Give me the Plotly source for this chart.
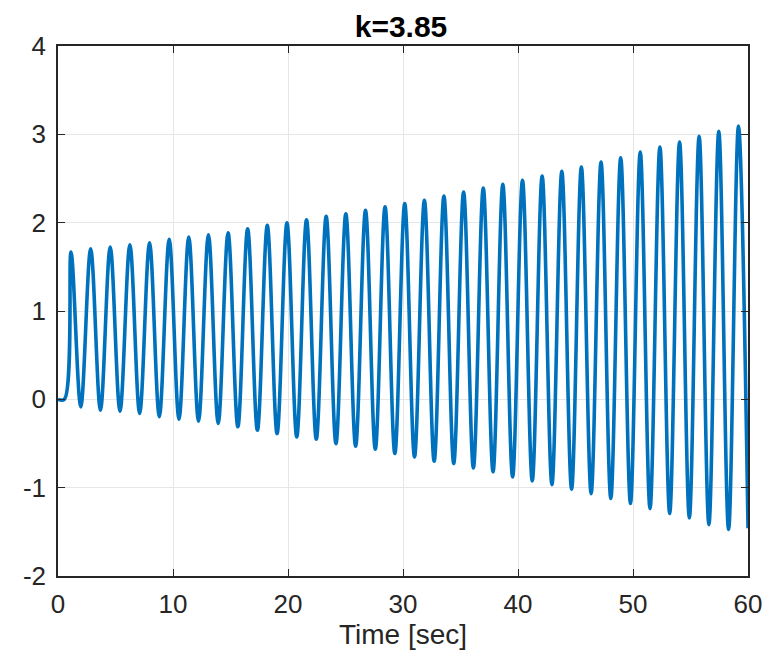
import plotly.graph_objects as go

# Start of the response (flat, then the first rise)
start_t = [0.0, 0.55]
start_v = [0.0, 0.0]

# Local maxima
peak_t = [1.13, 2.84, 4.54, 6.25, 7.96, 9.67, 11.37, 13.08, 14.79, 16.49,
          18.20, 19.91, 21.61, 23.32, 25.03, 26.74, 28.44, 30.15, 31.86, 33.56,
          35.27, 36.98, 38.68, 40.39, 42.10, 43.81, 45.51, 47.22, 48.93, 50.63,
          52.34, 54.05, 55.75, 57.46, 59.17]
peak_v = [1.667, 1.704, 1.724, 1.750, 1.772, 1.811, 1.837, 1.863, 1.886, 1.931,
          1.969, 1.999, 2.033, 2.071, 2.101, 2.139, 2.180, 2.216, 2.253, 2.301,
          2.347, 2.392, 2.434, 2.479, 2.528, 2.581, 2.630, 2.686, 2.735, 2.800,
          2.856, 2.913, 2.977, 3.034, 3.094]

# Local minima
trough_t = [1.98, 3.69, 5.39, 7.10, 8.81, 10.52, 12.22, 13.93, 15.64, 17.34,
            19.05, 20.76, 22.46, 24.17, 25.88, 27.59, 29.29, 31.00, 32.71, 34.41,
            36.12, 37.83, 39.53, 41.24, 42.95, 44.66, 46.36, 48.07, 49.78, 51.48,
            53.19, 54.90, 56.60, 58.31]
trough_v = [-0.085, -0.123, -0.135, -0.161, -0.198, -0.225, -0.248, -0.274, -0.311, -0.350,
            -0.387, -0.425, -0.452, -0.501, -0.531, -0.565, -0.614, -0.651, -0.701, -0.727,
            -0.776, -0.821, -0.878, -0.923, -0.965, -1.018, -1.067, -1.123, -1.180, -1.237,
            -1.293, -1.342, -1.418, -1.474]

# Final sample at the end of the run
end_t = [60.0]
end_v = [-1.46]

x_ticks = [0, 10, 20, 30, 40, 50, 60]
y_ticks = [-2, -1, 0, 1, 2, 3, 4]

pts = sorted(list(zip(start_t, start_v)) + list(zip(peak_t, peak_v)) +
             list(zip(trough_t, trough_v)) + list(zip(end_t, end_v)))
xs = [p[0] for p in pts]
ys = [p[1] for p in pts]

fig = go.Figure()
fig.add_trace(go.Scatter(
    x=xs, y=ys, mode="lines",
    line=dict(color="#0072BD", width=3.6, shape="spline", smoothing=1.0),
    showlegend=False, hoverinfo="skip", cliponaxis=True))

FONT = "Liberation Sans, Arial, sans-serif"
axis_common = dict(
    showline=True, linecolor="#262626", linewidth=1.5, mirror="ticks",
    ticks="inside", ticklen=7, tickwidth=1.3, tickcolor="#262626",
    showgrid=True, gridcolor="#e6e6e6", gridwidth=1,
    zeroline=False, automargin=False,
    tickfont=dict(family=FONT, size=26, color="#262626"),
)

fig.update_xaxes(range=[0, 60], tickvals=x_ticks, ticktext=[str(v) for v in x_ticks],
                 ticklabelstandoff=4,
                 title=dict(text="Time [sec]", standoff=1,
                            font=dict(family=FONT, size=28, color="#262626")),
                 **axis_common)
fig.update_yaxes(range=[-2, 4], tickvals=y_ticks, ticktext=[str(v) for v in y_ticks],
                 ticklabelstandoff=5, **axis_common)

# The page body adds an 8px margin, so the figure is sized to fit the window.
W, H = 763, 654
fig.update_layout(
    width=W, height=H,
    margin=dict(l=50, r=23, t=38, b=86, autoexpand=False),
    paper_bgcolor="white", plot_bgcolor="white",
    title=dict(text="<b>k=3.85</b>", x=393 / W, xanchor="center", y=1 - 18 / H, yref="container",
               yanchor="middle",
               font=dict(family=FONT, size=30, color="black")),
)

fig.write_html("out.html")
